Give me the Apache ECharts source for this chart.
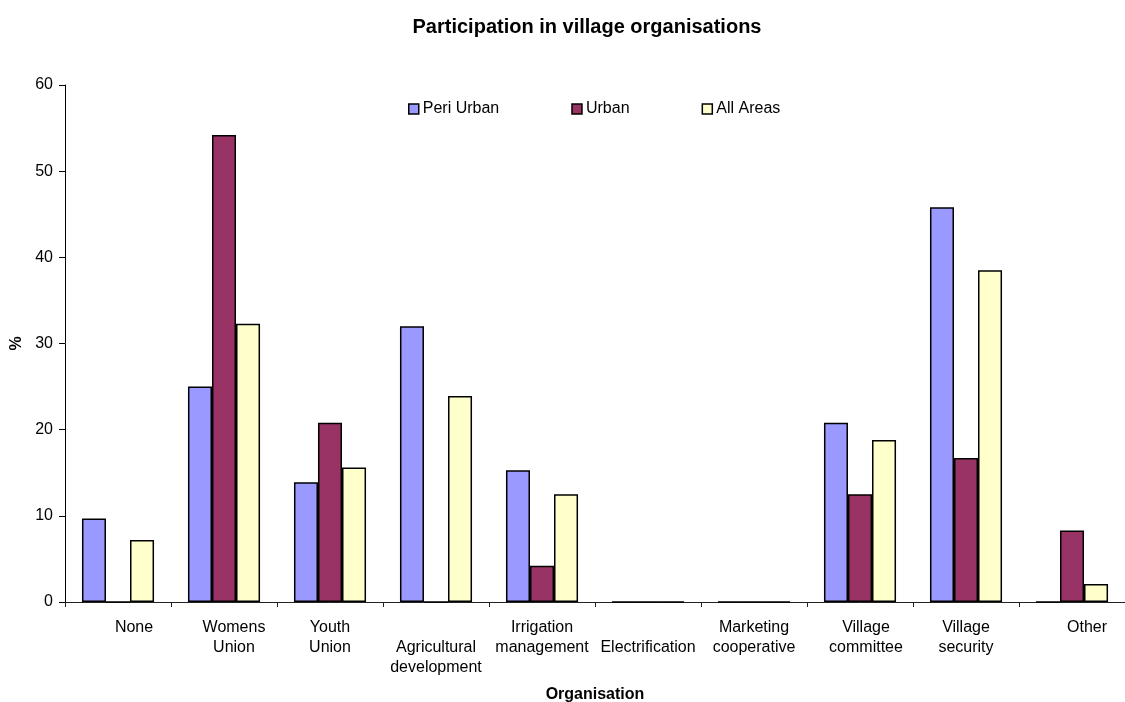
<!DOCTYPE html>
<html>
<head>
<meta charset="utf-8">
<script src="https://cdn.jsdelivr.net/npm/echarts@6/dist/echarts.min.js"></script>
<style>
  html, body { margin: 0; padding: 0; background: #fff; }
  #chart { width: 1125px; height: 702px; }
</style>
</head>
<body>
<div id="chart"></div>
<script>
// Organisation categories (line breaks as laid out under the axis)
const categories = [
  'None', 'Womens\nUnion', 'Youth\nUnion', '\nAgricultural\ndevelopment',
  'Irrigation\nmanagement', '\nElectrification', 'Marketing\ncooperative',
  'Village\ncommittee', 'Village\nsecurity', 'Other'
];

// Percentage of households participating, by area
const periUrban = [9.7, 25.0, 13.9, 32.0, 15.3, 0, 0, 20.8, 45.8, 0];
const urban     = [0, 54.2, 20.8, 0, 4.2, 0, 0, 12.5, 16.7, 8.3];
const allAreas  = [7.2, 32.3, 15.6, 23.9, 12.5, 0, 0, 18.8, 38.5, 2.1];

const seriesNames = ['Peri Urban', 'Urban', 'All Areas'];
const seriesColors = ['#9999FF', '#993366', '#FFFFCC'];

const font = 'Liberation Sans, Arial, sans-serif';

// horizontal nudge (px) of a few category labels
const labelNudge = { 'None': 16, 'Womens\nUnion': 10, 'Other': 15, 'Village\ncommittee': 6 };

const axisData = categories.map(name => {
  const dx = labelNudge[name] || 0;
  return dx ? { value: name, textStyle: { padding: [0, 0, 0, dx * 2] } } : name;
});

const chart = echarts.init(document.getElementById('chart'), null, { renderer: 'canvas' });

const mkSeries = (name, data, color) => ({
  name: name,
  type: 'bar',
  data: data,
  barGap: '0%',
  barCategoryGap: '32%',
  itemStyle: { color: color, borderColor: '#000', borderWidth: 1.5 },
  emphasis: { disabled: true }
});

chart.setOption({
  animation: false,
  backgroundColor: '#fff',
  textStyle: { fontFamily: font, color: '#000' },
  title: {
    text: 'Participation in village organisations',
    left: 582,
    textAlign: 'center',
    top: 12,
    textStyle: { fontFamily: font, fontSize: 20, fontWeight: 'bold', color: '#000' }
  },
  legend: {
    left: 403,
    top: 96,
    itemWidth: 10,
    itemHeight: 10,
    itemGap: 72,
    icon: 'rect',
    selectedMode: false,
    textStyle: { fontFamily: font, fontSize: 16, color: '#000', padding: [0, 0, 0, -1] },
    itemStyle: { borderColor: '#000', borderWidth: 1.5 },
    data: seriesNames
  },
  grid: {
    left: 65, right: 0, top: 85, bottom: 100,
    containLabel: false,
    outerBoundsMode: 'none'
  },
  xAxis: {
    type: 'category',
    data: axisData,
    name: 'Organisation',
    nameLocation: 'middle',
    nameGap: 85,
    nameTextStyle: { fontFamily: font, fontSize: 16, fontWeight: 'bold', color: '#000' },
    axisLine: { lineStyle: { color: '#222', width: 1 } },
    axisTick: { show: true, length: 5, alignWithLabel: false, lineStyle: { color: '#222' } },
    axisLabel: {
      interval: 0,
      margin: 16,
      fontFamily: font,
      fontSize: 16,
      lineHeight: 20,
      color: '#000'
    },
    splitLine: { show: false }
  },
  yAxis: {
    type: 'value',
    min: 0,
    max: 60,
    interval: 10,
    name: '%',
    nameLocation: 'middle',
    nameGap: 40,
    nameRotate: 90,
    nameTextStyle: { fontFamily: font, fontSize: 16, fontWeight: 'bold', color: '#000' },
    axisLine: { show: true, lineStyle: { color: '#000', width: 1 } },
    axisTick: { show: true, length: 6, inside: false, lineStyle: { color: '#000' } },
    axisLabel: { fontFamily: font, fontSize: 16, color: '#000', margin: 12 },
    splitLine: { show: false }
  },
  series: [
    mkSeries(seriesNames[0], periUrban, seriesColors[0]),
    mkSeries(seriesNames[1], urban, seriesColors[1]),
    mkSeries(seriesNames[2], allAreas, seriesColors[2])
  ]
});
</script>
</body>
</html>
